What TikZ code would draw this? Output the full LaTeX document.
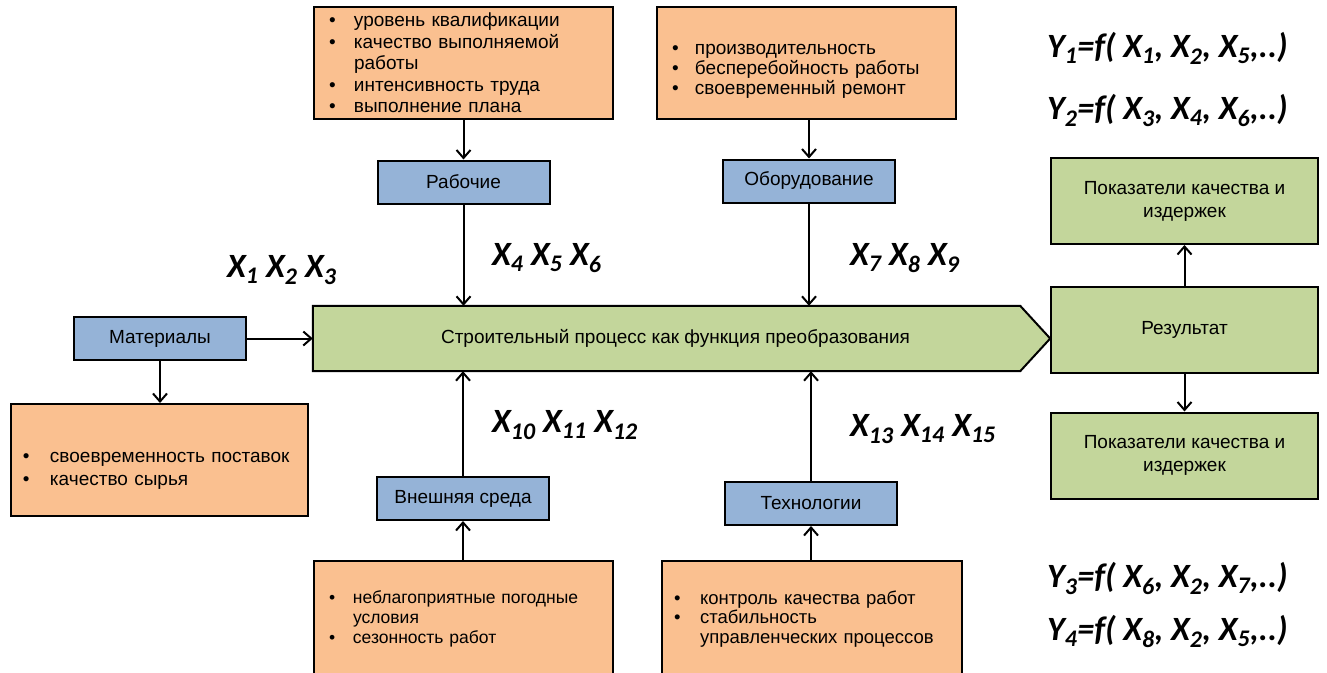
\documentclass[tikz,border=0pt]{standalone}
\usepackage{fontspec}
\setmainfont{Liberation Sans}
\newfontfamily\calib{Carlito}
\usetikzlibrary{arrows.meta,backgrounds}

\definecolor{orfill}{HTML}{FAC090}
\definecolor{blfill}{HTML}{95B3D7}
\definecolor{grfill}{HTML}{C3D69B}

\newcommand{\itm}[1]{\makebox[#1][l]{\textbullet}}
\newcommand{\xs}[1]{X\textsubscript{#1}}

\tikzset{
  box/.style={draw=black, line width=2pt, inner sep=0pt},
  orbox/.style={box, fill=orfill, align=left, inner xsep=15pt, font=\fontsize{19}{22}\selectfont},
  blbox/.style={box, fill=blfill, font=\fontsize{19}{22}\selectfont, minimum width=172, minimum height=43},
  grbox/.style={box, fill=grfill, align=center, font=\fontsize{19}{23}\selectfont, minimum width=267, minimum height=86},
  conn/.style={line width=2pt, -{Straight Barb[length=8pt,width=14pt,line width=2pt]}},
  xlab/.style={font=\calib\bfseries\itshape\fontsize{34}{36}\selectfont, inner sep=0pt, anchor=base west},
}

\begin{document}
\begin{tikzpicture}[x=1pt,y=-1pt]
\path[use as bounding box] (0,0) rectangle (1327,672);
\clip (0,0) rectangle (1327,672);

% top factor boxes
\node[orbox, minimum width=299, minimum height=112, text width=269, font=\fontsize{19}{21.5}\selectfont] (orW) at (463.5,63)
 {\itm{25pt}уровень квалификации\\
  \itm{25pt}качество выполняемой\\
  \hspace*{25pt}работы\\
  \itm{25pt}интенсивность труда\\
  \itm{25pt}выполнение плана};
\node[orbox, minimum width=299, minimum height=112, text width=269, font=\fontsize{19}{20}\selectfont] (orE) at (806.5,63)
 {\rule{0pt}{27pt}\itm{23pt}производительность\\
  \itm{23pt}бесперебойность работы\\
  \itm{23pt}своевременный ремонт};

% blue boxes
\node[blbox] (rab) at (463.5,182) {Рабочие};
\node[blbox] (obo) at (809,181) {Оборудование};
\node[blbox] (mat) at (160,338.5) {Материалы};
\node[blbox] (vne) at (463,498.5) {Внешняя среда};
\node[blbox] (tex) at (811,503.5) {Технологии};

% process
\node[inner sep=0pt, minimum width=737, minimum height=65, font=\fontsize{19}{22}\selectfont] (proc) at (681.5,338.5)
 {\hspace*{-12pt}Строительный процесс как функция преобразования};
\begin{scope}[on background layer]
\draw[line width=2pt, fill=grfill, line join=miter]
  (proc.north west) -- ([xshift=-30pt]proc.north east) -- (proc.east)
  -- ([xshift=-30pt]proc.south east) -- (proc.south west) -- cycle;
\end{scope}

% result boxes
\node[grbox] (res) at (1184.5,330) {Результат};
\node[grbox] (pk1) at (1184.5,201) {Показатели качества и\\издержек};
\node[grbox] (pk2) at (1184.5,455.5) {Показатели качества и\\издержек};

% lower factor boxes
\node[orbox, inner xsep=12pt, minimum width=297, minimum height=112, text width=273, font=\fontsize{19}{23}\selectfont] (orM) at (159.5,460)
 {\rule{0pt}{31pt}\itm{27pt}своевременность поставок\\
  \itm{27pt}качество сырья};
\node[orbox, minimum width=299, minimum height=116, text width=269, font=\fontsize{17.5}{20}\selectfont] (orV) at (463.5,619)
 {\itm{24pt}неблагоприятные погодные\\
  \hspace*{24pt}условия\\
  \itm{24pt}сезонность работ};
\node[orbox, inner xsep=12pt, minimum width=300, minimum height=116, text width=276, font=\fontsize{18.5}{19.5}\selectfont] (orT) at (812,619)
 {\itm{26pt}контроль качества работ\\
  \itm{26pt}стабильность\\
  \hspace*{26pt}управленческих процессов};

% connectors
\draw[conn] (orW) -- (rab);
\draw[conn] (rab) -- (rab |- proc.north);
\draw[conn] (obo |- orE.south) -- (obo);
\draw[conn] (obo) -- (obo |- proc.north);
\draw[conn] (mat) -- (proc.west);
\draw[conn] (mat) -- (mat |- orM.north);
\draw[conn] (vne |- orV.north) -- (vne);
\draw[conn] (vne) -- (vne |- proc.south);
\draw[conn] (tex |- orT.north) -- (tex);
\draw[conn] (tex) -- (tex |- proc.south);
\draw[conn] (res) -- (pk1);
\draw[conn] (res) -- (pk2);

% variable labels
\node[xlab] (x1) at (227,277) {\xs{1} \xs{2} \xs{3}};
\node[xlab] (x4) at (492,265) {\xs{4} \xs{5} \xs{6}};
\node[xlab] (x7) at (850,265) {\xs{7} \xs{8} \xs{9}};
\node[xlab] (x10) at (492,432) {\xs{10} \xs{11} \xs{12}};
\node[xlab] (x13) at (850,436) {\xs{13} \xs{14} \xs{15}};

\node[xlab] (y1) at (1047,57) {Y\textsubscript{1}=f( \xs{1}, \xs{2}, \xs{5},..)};
\node[xlab] (y2) at (1047,119) {Y\textsubscript{2}=f( \xs{3}, \xs{4}, \xs{6},..)};
\node[xlab] (y3) at (1047,587) {Y\textsubscript{3}=f( \xs{6}, \xs{2}, \xs{7},..)};
\node[xlab] (y4) at (1047,640) {Y\textsubscript{4}=f( \xs{8}, \xs{2}, \xs{5},..)};
\end{tikzpicture}
\end{document}
